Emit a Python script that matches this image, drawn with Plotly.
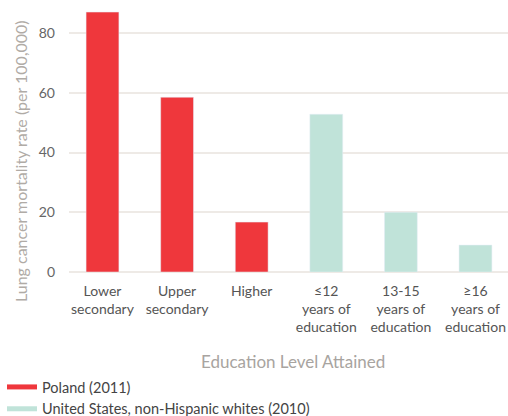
import plotly.graph_objects as go

poland_cats = ["Lower<br>secondary", "Upper<br>secondary", "Higher"]
poland_vals = [87, 58.5, 16.7]
us_cats = ["≤12<br>years of<br>education", "13-15<br>years of<br>education", "≥16<br>years of<br>education"]
us_vals = [52.8, 20, 9]
y_ticks = [0, 20, 40, 60, 80]

RED = "#EF373C"
MINT = "#C0E3D9"
FONT = "Lato"

fig = go.Figure()
fig.add_trace(go.Bar(x=poland_cats, y=poland_vals, marker_color=RED, width=0.44,
                     showlegend=False, hoverinfo="y"))
fig.add_trace(go.Bar(x=us_cats, y=us_vals, marker_color=MINT, width=0.44,
                     showlegend=False, hoverinfo="y"))
# legend entries drawn as thick lines
fig.add_trace(go.Scatter(x=[None], y=[None], mode="lines", name="Poland (2011)",
                         line=dict(color=RED, width=5)))
fig.add_trace(go.Scatter(x=[None], y=[None], mode="lines",
                         name="United States, non-Hispanic whites (2010)",
                         line=dict(color=MINT, width=5)))

fig.update_layout(
    width=508, height=416,
    margin=dict(l=69, r=0, t=5, b=144, autoexpand=False),
    paper_bgcolor="white", plot_bgcolor="white",
    barmode="overlay",
    font=dict(family=FONT, size=14, color="#555"),
    showlegend=True,
    legend=dict(xref="paper", yref="paper", x=(2 - 69) / 439, y=(272 - 371) / 267,
                xanchor="left", yanchor="top", orientation="h",
                entrywidth=1, entrywidthmode="fraction",
                font=dict(size=14.5, color="#444"), itemwidth=30,
                tracegroupgap=0, bgcolor="rgba(0,0,0,0)"),
    xaxis=dict(type="category", categoryorder="array",
               categoryarray=poland_cats + us_cats,
               range=[-0.449, 5.436], showgrid=False, zeroline=False,
               showline=False, ticks="", ticklabelstandoff=9, tickangle=0,
               tickfont=dict(size=14, color="#555")),
    yaxis=dict(range=[0, 89.37], tickvals=y_ticks, showgrid=True,
               gridcolor="#EEEAE6", gridwidth=2, zeroline=True,
               zerolinecolor="#EEEAE6", zerolinewidth=2, showline=False,
               ticks="", ticklabelstandoff=13,
               tickfont=dict(size=14, color="#666")),
    annotations=[
        dict(text="Lung cancer mortality rate (per 100,000)", textangle=-90,
             xref="paper", yref="paper", x=(20 - 69) / 439, y=(272 - 161) / 267,
             xanchor="center", yanchor="middle", showarrow=False,
             font=dict(size=16, color="#B0ABA6")),
        dict(text="Education Level Attained",
             xref="paper", yref="paper", x=(293 - 69) / 439, y=(272 - 361) / 267,
             xanchor="center", yanchor="middle", showarrow=False,
             font=dict(size=17, color="#A8A4A0")),
    ],
)

fig.write_html("out.html", config={"displayModeBar": False},
               post_script="document.body.style.margin='0';document.body.style.overflow='hidden';")
